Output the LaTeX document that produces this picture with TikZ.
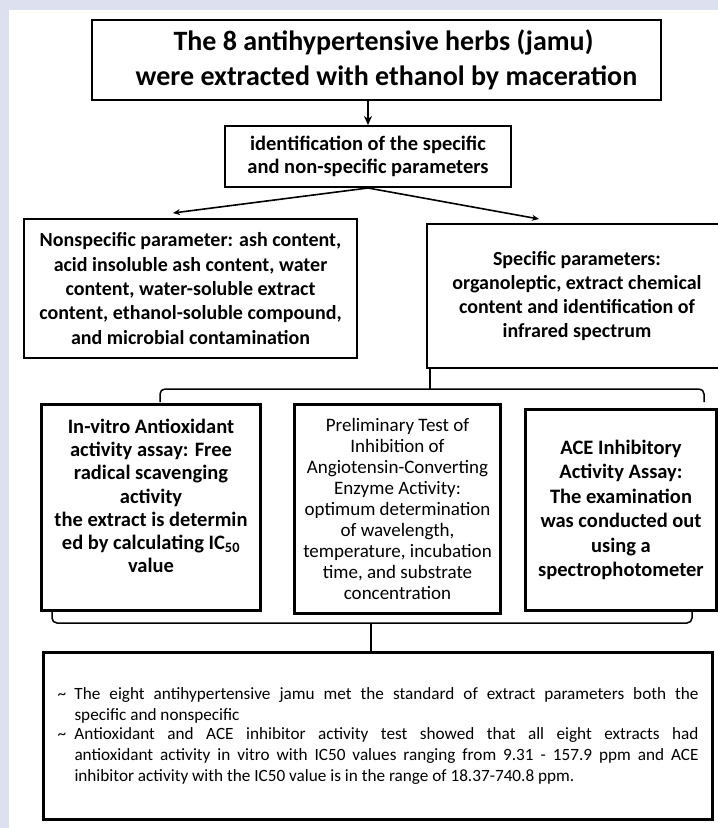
\documentclass[tikz,border=0pt]{standalone}
\usepackage{fontspec}
\setmainfont{Carlito}
\usetikzlibrary{arrows.meta,positioning}

\definecolor{framebg}{RGB}{221,224,238}

% one tilde-bulleted, justified item of the conclusion
\newcommand\tildeitem[1]{\noindent\makebox[17pt][l]{\textasciitilde}%
  \parbox[t]{624pt}{\spaceskip=0pt\xspaceskip=0pt\leftskip=0pt\rightskip=0pt\parfillskip=0pt plus 1fil\hyphenpenalty=10000 #1}\par}

\begin{document}
\begin{tikzpicture}[x=1pt, y=-1pt,
  box/.style={draw, line width=2pt, align=center, inner sep=3pt, font=\bfseries},
  thickbox/.style={box, line width=3pt},
  link/.style={line width=2pt, -{Stealth[length=9pt,width=8pt]}},
  slant/.style={line width=1.6pt, -{Stealth[length=7pt,width=6pt]}},
  brace/.style={line width=1.5pt, rounded corners=5pt}]

  % page frame
  \useasboundingbox (0,0) rectangle (718,828);
  \fill[framebg] (0,0) rectangle (718,828);
  \fill[white] (8.5,9.5) rectangle (718,828);

  % extraction and parameters
  \node[box, anchor=north west, minimum width=569pt, minimum height=80pt,
        font=\bfseries\fontsize{28}{35}\selectfont] (title) at (91,19)
    {\hspace*{14pt}The 8 antihypertensive herbs (jamu)\\\hspace*{20pt}were extracted with ethanol by maceration};
  \node[box, below=24pt of title, xshift=-8.5pt, minimum width=286pt, minimum height=61pt,
        font=\bfseries\fontsize{20.5}{23}\selectfont] (ident)
    {identification of the specific\\and non-specific parameters};
  \node[box, anchor=north west, minimum width=333pt, minimum height=139pt,
        font=\bfseries\fontsize{20}{24.4}\selectfont] (nonspec) at (23,218)
    {Nonspecific parameter: ash content,\\acid insoluble ash content, water\\content, water-soluble extract\\content, ethanol-soluble compound,\\and microbial contamination};
  \node[box, anchor=north west, minimum width=300pt, minimum height=144pt,
        font=\bfseries\fontsize{20}{23.7}\selectfont] (spec) at (426,223)
    {Specific parameters:\\organoleptic, extract chemical\\content and identification of\\infrared spectrum};

  % activity assays
  \node[thickbox, anchor=north west, minimum width=219pt, minimum height=206pt,
        font=\bfseries\fontsize{20.5}{23.3}\selectfont] (invitro) at (40,403)
    {In-vitro Antioxidant\\activity assay: Free\\radical scavenging\\activity\\the extract is determin\\ed by calculating IC\textsubscript{50}\\value\\\mbox{}};
  \node[thickbox, anchor=north west, minimum width=206pt, minimum height=209pt,
        font=\fontsize{19}{21.1}\selectfont] (prelim) at (293,403)
    {Preliminary Test of\\Inhibition of\\Angiotensin-Converting\\Enzyme Activity:\\optimum determination\\of wavelength,\\temperature, incubation\\time, and substrate\\concentration};
  \node[thickbox, anchor=north west, minimum width=191pt, minimum height=201pt,
        font=\bfseries\fontsize{20.5}{24.4}\selectfont] (ace) at (524,408)
    {ACE Inhibitory\\Activity Assay:\\The examination\\was conducted out\\using a\\spectrophotometer};

  % conclusion
  \node[thickbox, anchor=north west, minimum width=669pt, minimum height=167pt,
        text width=641pt, align=justify, inner xsep=14pt,
        font=\fontsize{17.2}{21}\selectfont] (summary) at (42,651)
    {\tildeitem{The eight antihypertensive jamu met the standard of extract parameters both the\linebreak specific and nonspecific}
     \vspace{4pt}
     \tildeitem{Antioxidant and ACE inhibitor activity test showed that all eight extracts had\linebreak antioxidant activity in vitro with IC50 values ranging from 9.31 - 157.9 ppm and ACE\linebreak inhibitor activity with the IC50 value is in the range of 18.37-740.8 ppm.}};

  % arrows
  \coordinate (tononspec) at (173,213);
  \coordinate (tospec) at (539,219);
  \draw[link] (title.south -| ident.north) -- (ident.north);
  \draw[slant] (ident.south) -- (tononspec);
  \draw[slant] (ident.south) -- (tospec);

  % brackets
  \coordinate (braceA) at (430,389);
  \coordinate (braceAL) at (160,402);
  \coordinate (braceAR) at (704,402);
  \draw[brace] (spec.south -| braceA) -- (braceA);
  \draw[brace] (braceAL) |- (braceA) -| (braceAR);
  \coordinate (braceB) at (371,623);
  \coordinate (braceBL) at (52,612);
  \coordinate (braceBR) at (692,612);
  \draw[brace] (braceBL) |- (braceB) -| (braceBR);
  \draw[brace] (braceB) -- (summary.north -| braceB);
\end{tikzpicture}
\end{document}
